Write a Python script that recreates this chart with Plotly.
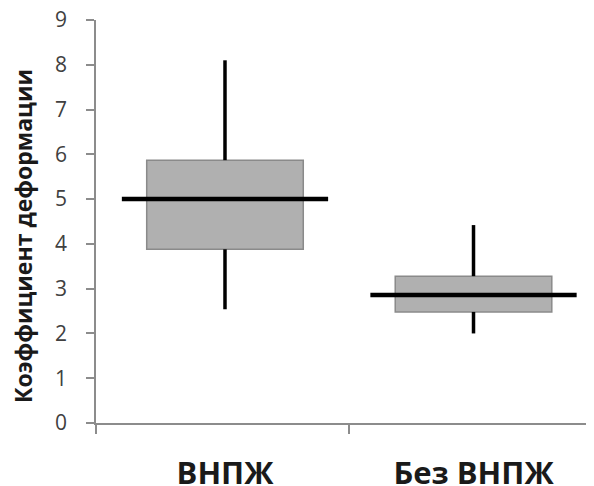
import plotly.graph_objects as go

categories = ["ВНПЖ", "Без ВНПЖ"]
whisker_low = [2.54, 2.0]
q1 = [3.88, 2.48]
median = [5.0, 2.86]
q3 = [5.87, 3.28]
whisker_high = [8.1, 4.42]
y_ticks = list(range(0, 10))
y_title = "Коэффициент деформации"

BOX_W = 0.63
MED_HALF = 0.415
xs = [i + 1 for i in range(len(categories))]

fig = go.Figure()

# boxes
fig.add_trace(go.Bar(
    x=xs, y=[b - a for a, b in zip(q1, q3)], base=q1, width=BOX_W,
    marker=dict(color="#b0b0b0", line=dict(color="#8a8a8a", width=1.5)),
    hoverinfo="skip", showlegend=False,
))

# whiskers
for x, lo, a, b, hi in zip(xs, whisker_low, q1, q3, whisker_high):
    fig.add_trace(go.Scatter(x=[x, x, None, x, x], y=[b, hi, None, lo, a], mode="lines",
                             line=dict(color="black", width=3.5), showlegend=False, hoverinfo="skip"))
# medians
for x, m in zip(xs, median):
    fig.add_trace(go.Scatter(x=[x - MED_HALF, x + MED_HALF], y=[m, m], mode="lines",
                             line=dict(color="black", width=4.5), showlegend=False, hoverinfo="skip"))

X_LEFT, X_RIGHT = 0.481, 2.517
font = "Open Sans, Liberation Sans, DejaVu Sans, sans-serif"
fig.update_layout(
    width=594, height=486,
    margin=dict(l=88, r=0, t=12, b=71),
    plot_bgcolor="white", paper_bgcolor="white",
    font=dict(family=font, color="#333333"),
    xaxis=dict(
        range=[X_LEFT, X_RIGHT], tickmode="array", tickvals=xs, ticktext=categories,
        ticks="", showgrid=False, zeroline=False, automargin=False,
        showline=True, linecolor="#8c8c8c", linewidth=1.5,
        tickfont=dict(size=31, family=font, color="#1a1a1a", weight="bold"),
        ticklabelstandoff=22, ticklabeloverflow="allow",
        minor=dict(tickmode="array", tickvals=[X_LEFT, 1.5], ticks="outside",
                   ticklen=9, tickcolor="#8c8c8c", tickwidth=1.5, showgrid=False),
    ),
    yaxis=dict(
        range=[0, 9], tickmode="array", tickvals=y_ticks, automargin=False,
        ticks="outside", ticklen=8, tickcolor="#8c8c8c", tickwidth=1.5,
        showgrid=False, zeroline=False,
        showline=True, linecolor="#8c8c8c", linewidth=1.5,
        tickfont=dict(size=21, family=font, color="#404040"),
        ticklabelstandoff=15, ticklabeloverflow="allow",
    ),
    annotations=[dict(
        text=y_title, textangle=-90, xref="paper", yref="paper",
        x=0, y=0.464, xanchor="center", yanchor="middle", xshift=-73,
        showarrow=False,
        font=dict(size=23, family=font, color="#1a1a1a", weight="bold"),
    )],
)

fig.write_html("out.html", config={"displayModeBar": False})
